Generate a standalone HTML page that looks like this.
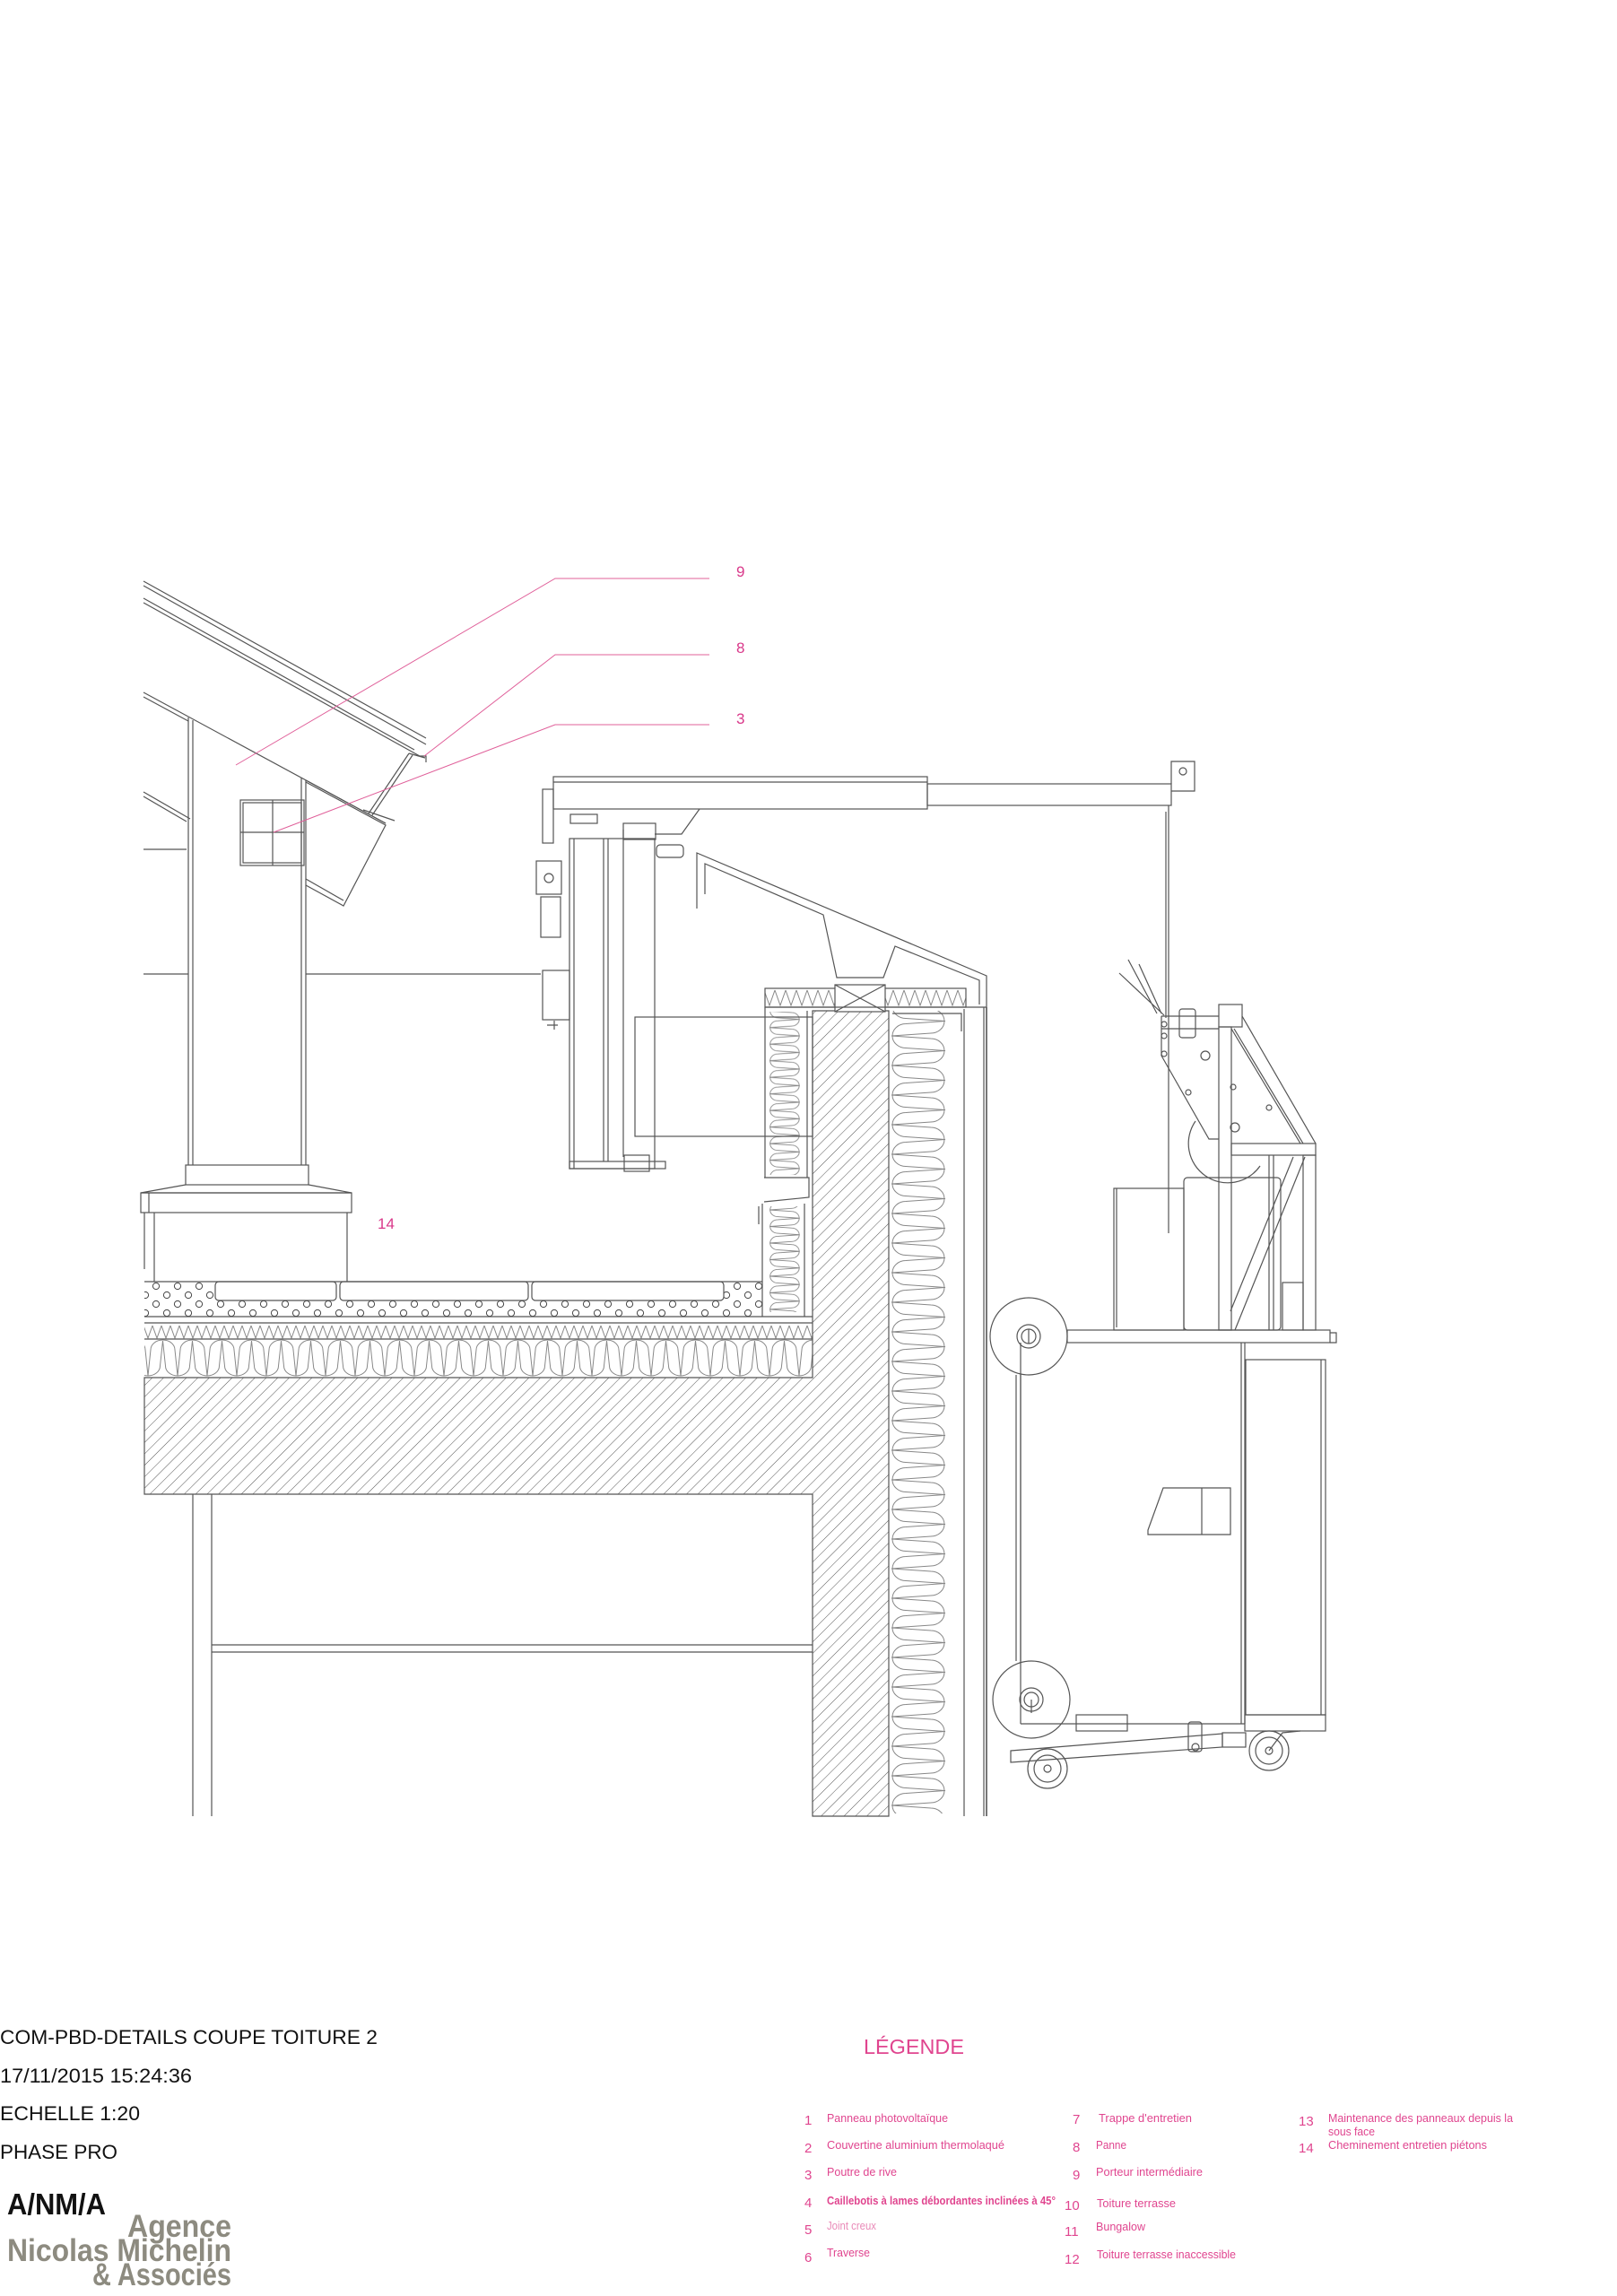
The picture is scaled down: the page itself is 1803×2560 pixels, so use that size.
<!DOCTYPE html>
<html><head><meta charset="utf-8"><style>
html,body{margin:0;padding:0;background:#fff}
svg{display:block}
.t{font-family:"Liberation Sans",sans-serif}
.n{font-family:"Liberation Sans Narrow","Liberation Sans",sans-serif}
</style></head><body>
<svg width="1803" height="2560" viewBox="0 0 1803 2560" xmlns="http://www.w3.org/2000/svg">
<defs>
<pattern id="hatch" patternUnits="userSpaceOnUse" width="9" height="9" patternTransform="rotate(45)">
<line x1="0" y1="0" x2="0" y2="9" stroke="#555" stroke-width="1"/></pattern>
<pattern id="insV" patternUnits="userSpaceOnUse" width="64" height="33" patternTransform="translate(992,0)">
<g fill="none" stroke="#888" stroke-width="1">
<path d="M2,0 L46,3 A15,13.5 0 0 1 46,30 L2,33"/>
<path d="M62,-16.5 L18,-13.5 A15,13.5 0 0 0 18,13.5 L62,16.5 L18,19.5 A15,13.5 0 0 0 18,46.5 L62,49.5"/>
</g></pattern>
<pattern id="insS" patternUnits="userSpaceOnUse" width="64" height="33" patternTransform="translate(857,0) scale(0.56)">
<g fill="none" stroke="#888" stroke-width="1.6">
<path d="M2,0 L46,3 A15,13.5 0 0 1 46,30 L2,33"/>
<path d="M62,-16.5 L18,-13.5 A15,13.5 0 0 0 18,13.5 L62,16.5 L18,19.5 A15,13.5 0 0 0 18,46.5 L62,49.5"/>
</g></pattern>
<pattern id="insH" patternUnits="userSpaceOnUse" width="33" height="43" patternTransform="translate(0,1493)">
<g fill="none" stroke="#888" stroke-width="1">
<path d="M0,41 L3,12 A13.5,11 0 0 1 30,12 L33,41"/>
<path d="M-16.5,2 L-13.5,30 A13.5,11 0 0 0 13.5,30 L16.5,2 L19.5,30 A13.5,11 0 0 0 46.5,30 L49.5,2"/>
</g></pattern>
<pattern id="zig" patternUnits="userSpaceOnUse" width="10" height="16" patternTransform="translate(0,1477)">
<path d="M0,1 L5,15 L10,1" fill="none" stroke="#888" stroke-width="1"/></pattern>
<pattern id="zigP" patternUnits="userSpaceOnUse" width="12" height="21" patternTransform="translate(0,1102)">
<path d="M0,2 L6,19 L12,2" fill="none" stroke="#888" stroke-width="1"/></pattern>
<pattern id="grav" patternUnits="userSpaceOnUse" width="24" height="20" patternTransform="translate(0,1429)">
<g fill="none" stroke="#444" stroke-width="1">
<circle cx="6" cy="5" r="3.6"/><circle cx="18" cy="15" r="3.6"/></g></pattern>
</defs>

<g fill="none" stroke="#555" stroke-width="1.2">
<line x1="160" y1="648" x2="475" y2="823"/>
<line x1="160" y1="653" x2="475" y2="830"/>
<line x1="160" y1="667" x2="462" y2="836"/>
<line x1="160" y1="672" x2="468" y2="843"/>
<path d="M468,843 L475,843 L475,850"/>
<line x1="160" y1="772" x2="430" y2="918"/>
<line x1="160" y1="777" x2="210" y2="804"/>
<line x1="341" y1="870" x2="430" y2="918"/>
<line x1="160" y1="883" x2="212" y2="913"/>
<line x1="160" y1="888" x2="208" y2="916"/>
<line x1="160" y1="947" x2="208" y2="947"/>
<line x1="160" y1="1086" x2="210" y2="1086"/>
<line x1="341" y1="1086" x2="603" y2="1086"/>
<line x1="210" y1="800" x2="210" y2="1299"/>
<line x1="215" y1="803" x2="215" y2="1299"/>
<line x1="336" y1="867" x2="336" y2="1299"/>
<line x1="341" y1="870" x2="341" y2="1299"/>
<rect x="268" y="892" width="71" height="73"/>
<rect x="271" y="895" width="65" height="67"/>
<line x1="304" y1="892" x2="304" y2="965"/>
<line x1="268" y1="928" x2="339" y2="928"/>
<path d="M341,872 L430,920 L383,1010 L341,987"/>
<path d="M341,980 L383,1004"/>
<path d="M456,840 L411,907 M460,842 L415,909 M456,840 L474,845 M405,903 L440,915"/>
<rect x="207" y="1299" width="137" height="22"/>
<path d="M207,1321 L157,1330 L392,1330 L344,1321"/>
<rect x="157" y="1330" width="235" height="22"/>
<line x1="166" y1="1330" x2="166" y2="1352"/>
<line x1="172" y1="1352" x2="172" y2="1429"/>
<line x1="387" y1="1352" x2="387" y2="1429"/>
<line x1="161" y1="1352" x2="161" y2="1415"/>

<rect x="161" y="1429" width="689" height="39" fill="url(#grav)" stroke="none"/>
<rect x="240" y="1429" width="567" height="21" fill="#fff" stroke="none"/>
<line x1="161" y1="1429" x2="850" y2="1429"/>
<rect x="240" y="1429" width="135" height="21" rx="4"/>
<rect x="379" y="1429" width="210" height="21" rx="4"/>
<rect x="593" y="1429" width="214" height="21" rx="4"/>
<line x1="161" y1="1468" x2="906" y2="1468"/>
<line x1="161" y1="1475" x2="906" y2="1475"/>
<rect x="161" y="1477" width="745" height="16" fill="url(#zig)" stroke="none"/>
<line x1="161" y1="1493" x2="906" y2="1493"/>
<rect x="161" y="1493" width="745" height="43" fill="url(#insH)" stroke="none"/>
<path d="M161,1536 L906,1536 L906,1127 L991,1127 L991,2025 L906,2025 L906,1666 L161,1666 Z" fill="url(#hatch)"/>
<line x1="215" y1="1666" x2="215" y2="2025"/>
<line x1="236" y1="1666" x2="236" y2="2025"/>
<line x1="236" y1="1834" x2="906" y2="1834"/>
<line x1="236" y1="1842" x2="906" y2="1842"/>
<rect x="992" y="1127" width="64" height="895" fill="url(#insV)" stroke="none"/>
<line x1="1075" y1="1125" x2="1075" y2="2025"/>
<line x1="1097" y1="1123" x2="1097" y2="2025"/>
<line x1="1100" y1="1123" x2="1100" y2="2025" stroke-width="1.6"/>
<rect x="853" y="1102" width="224" height="21" fill="url(#zigP)"/>
<rect x="931" y="1098" width="56" height="30" fill="#fff"/>
<path d="M931,1098 L987,1128 M987,1098 L931,1128"/>
<line x1="853" y1="1123" x2="1100" y2="1123"/>
<path d="M995,1130 L1072,1130 L1072,1150"/>
<rect x="857" y="1128" width="36" height="182" fill="url(#insS)" stroke="none"/>
<rect x="857" y="1345" width="36" height="118" fill="url(#insS)" stroke="none"/>
<line x1="853" y1="1123" x2="853" y2="1313"/>
<line x1="900" y1="1127" x2="900" y2="1313"/>
<path d="M852,1313 L902,1313 L902,1335 L852,1340"/>
<line x1="846" y1="1345" x2="846" y2="1365"/>
<line x1="850" y1="1342" x2="850" y2="1468"/>
<line x1="897" y1="1342" x2="897" y2="1468"/>

<path d="M777,1013 L777,951 L1100,1088 L1100,1123"/>
<path d="M786,997 L786,963 L918,1020 L933,1090 L985,1090 L998,1055 L1092,1093 L1092,1120"/>

<rect x="617" y="866" width="417" height="36"/>
<line x1="617" y1="872" x2="1034" y2="872"/>
<rect x="1034" y="874" width="272" height="24"/>
<path d="M1306,874 L1306,849 L1332,849 L1332,882 L1306,882"/>
<circle cx="1319" cy="860" r="4"/>
<path d="M780,902 L760,930 L730,930"/>
<rect x="635" y="935" width="95" height="368"/>
<line x1="640" y1="935" x2="640" y2="1303"/>
<line x1="673" y1="935" x2="673" y2="1295"/>
<line x1="678" y1="935" x2="678" y2="1295"/>
<line x1="695" y1="925" x2="695" y2="1290"/>
<rect x="635" y="1295" width="107" height="8"/>
<rect x="598" y="960" width="28" height="37"/>
<circle cx="612" cy="979" r="5"/>
<rect x="603" y="1000" width="22" height="45"/>
<rect x="605" y="1082" width="30" height="55"/>
<rect x="605" y="880" width="12" height="60"/>
<rect x="636" y="908" width="30" height="10"/>
<rect x="695" y="918" width="36" height="18"/>
<rect x="732" y="942" width="30" height="14" rx="4"/>
<rect x="696" y="1288" width="28" height="18"/>
<path d="M610,1143 L622,1143 M618,1138 L618,1148"/>
<rect x="708" y="1134" width="198" height="133"/>

<line x1="1303" y1="898" x2="1303" y2="1375"/>
<line x1="1300" y1="905" x2="1300" y2="1135"/>
<path d="M1290,1130 L1258,1070 M1295,1130 L1270,1075 M1298,1132 L1248,1085"/>
<path d="M1295,1133 L1359,1133 M1295,1133 L1295,1177 L1348,1270 L1359,1270"/>
<path d="M1295,1147 L1359,1147"/>
<rect x="1315" y="1125" width="18" height="32" rx="3"/>
<circle cx="1344" cy="1177" r="5"/>
<circle cx="1325" cy="1218" r="3"/><circle cx="1375" cy="1212" r="3"/><circle cx="1415" cy="1235" r="3"/><circle cx="1377" cy="1257" r="5"/>
<circle cx="1298" cy="1142" r="3"/><circle cx="1298" cy="1155" r="3"/><circle cx="1298" cy="1175" r="3"/>
<path d="M1333,1250 A38,38 0 0 0 1405,1300"/>
<rect x="1359" y="1120" width="26" height="25"/>
<rect x="1359" y="1145" width="14" height="338"/>
<line x1="1385" y1="1133" x2="1467" y2="1275"/>
<line x1="1373" y1="1147" x2="1450" y2="1275"/>
<line x1="1376" y1="1147" x2="1453" y2="1275"/>
<rect x="1373" y="1275" width="94" height="13"/>
<rect x="1453" y="1288" width="14" height="195"/>
<line x1="1455" y1="1290" x2="1377" y2="1483"/>
<line x1="1442" y1="1290" x2="1372" y2="1462"/>
<line x1="1415" y1="1288" x2="1415" y2="1483"/>
<line x1="1420" y1="1288" x2="1420" y2="1483"/>
<rect x="1430" y="1430" width="23" height="53"/>
<rect x="1242" y="1325" width="78" height="158"/>
<line x1="1245" y1="1325" x2="1245" y2="1480"/>
<rect x="1320" y="1313" width="108" height="170" rx="4"/>
<rect x="1190" y="1483" width="293" height="14"/>
<path d="M1483,1486 L1490,1486 L1490,1497 L1483,1497"/>
<circle cx="1147" cy="1490" r="43"/>
<circle cx="1147" cy="1490" r="13"/><circle cx="1147" cy="1490" r="8"/>
<line x1="1147" y1="1482" x2="1147" y2="1498"/>
<line x1="1133" y1="1533" x2="1133" y2="1852"/>
<line x1="1138" y1="1533" x2="1138" y2="1852"/>
<line x1="1138" y1="1497" x2="1138" y2="1922"/>
<line x1="1384" y1="1497" x2="1384" y2="1922"/>
<line x1="1388" y1="1497" x2="1388" y2="1922"/>
<rect x="1389" y="1516" width="89" height="396"/>
<line x1="1473" y1="1516" x2="1473" y2="1912"/>
<line x1="1138" y1="1922" x2="1388" y2="1922"/>
<rect x="1388" y="1912" width="90" height="18"/>
<path d="M1297,1659 L1372,1659 L1372,1711 L1280,1711 L1280,1706 Z"/>
<line x1="1340" y1="1659" x2="1340" y2="1711"/>
<circle cx="1150" cy="1895" r="43"/>
<circle cx="1150" cy="1895" r="13"/><circle cx="1150" cy="1895" r="8"/>
<line x1="1150" y1="1895" x2="1150" y2="1910"/>
<rect x="1200" y="1912" width="57" height="18"/>
<path d="M1127,1952 L1363,1933 L1363,1948 L1127,1965 Z"/>
<rect x="1325" y="1920" width="15" height="33" rx="3"/>
<circle cx="1333" cy="1948" r="4"/>
<rect x="1363" y="1932" width="26" height="16"/>
<circle cx="1168" cy="1972" r="22"/><circle cx="1168" cy="1972" r="15"/><circle cx="1168" cy="1972" r="4"/>
<circle cx="1415" cy="1952" r="22"/><circle cx="1415" cy="1952" r="15"/><circle cx="1415" cy="1952" r="4"/>
<path d="M1415,1952 L1430,1932 L1450,1930"/>
</g>

<g fill="none" stroke="#e0609a" stroke-width="1">
<path d="M791,645 L619,645 L263,853"/>
<path d="M791,730 L619,730 L473,843"/>
<path d="M791,808 L619,808 L305,928"/>
</g>
<g class="t" fill="#d9388a" font-size="17">
<text x="821" y="643">9</text>
<text x="821" y="728">8</text>
<text x="821" y="807">3</text>
<text x="421" y="1370">14</text>
</g>

<g class="n" fill="#111" font-size="22">
<text x="0" y="2279" textLength="421" lengthAdjust="spacingAndGlyphs">COM-PBD-DETAILS COUPE TOITURE 2</text>
<text x="0" y="2322" textLength="214" lengthAdjust="spacingAndGlyphs">17/11/2015 15:24:36</text>
<text x="0" y="2364" textLength="156" lengthAdjust="spacingAndGlyphs">ECHELLE 1:20</text>
<text x="0" y="2407" textLength="131" lengthAdjust="spacingAndGlyphs">PHASE PRO</text>
</g>
<text class="n" x="8" y="2469" font-size="33" font-weight="bold" fill="#111" textLength="110" lengthAdjust="spacingAndGlyphs">A/NM/A</text>
<g class="n" fill="#8d8b80" font-size="35" font-weight="bold">
<text x="142" y="2494" textLength="116" lengthAdjust="spacingAndGlyphs">Agence</text>
<text x="8" y="2521" textLength="250" lengthAdjust="spacingAndGlyphs">Nicolas Michelin</text>
<text x="103" y="2548" textLength="155" lengthAdjust="spacingAndGlyphs">&amp; Associés</text>
</g>

<text class="t" x="963" y="2290" font-size="23" fill="#e0458f" textLength="112" lengthAdjust="spacingAndGlyphs">LÉGENDE</text>
<g class="t" fill="#e0458f" font-size="15">
<text x="897" y="2369">1</text><text x="897" y="2400">2</text><text x="897" y="2430">3</text>
<text x="897" y="2461">4</text><text x="897" y="2491">5</text><text x="897" y="2522">6</text>
<text x="1196" y="2368">7</text><text x="1196" y="2399">8</text><text x="1196" y="2430">9</text>
<text x="1187" y="2464">10</text><text x="1187" y="2493">11</text><text x="1187" y="2524">12</text>
<text x="1448" y="2370">13</text><text x="1448" y="2400">14</text>
</g>
<g class="n" fill="#e0458f" font-size="12.5">
<text x="922" y="2366" textLength="135" lengthAdjust="spacingAndGlyphs">Panneau photovoltaïque</text>
<text x="922" y="2396" textLength="198" lengthAdjust="spacingAndGlyphs">Couvertine aluminium thermolaqué</text>
<text x="922" y="2426" textLength="78" lengthAdjust="spacingAndGlyphs">Poutre de rive</text>
<text x="922" y="2458" font-weight="bold" textLength="255" lengthAdjust="spacingAndGlyphs">Caillebotis à lames débordantes inclinées à 45°</text>
<text x="922" y="2486" fill="#e98ab8" textLength="55" lengthAdjust="spacingAndGlyphs">Joint creux</text>
<text x="922" y="2516" textLength="48" lengthAdjust="spacingAndGlyphs">Traverse</text>
<text x="1225" y="2366" textLength="104" lengthAdjust="spacingAndGlyphs">Trappe d'entretien</text>
<text x="1222" y="2396" textLength="34" lengthAdjust="spacingAndGlyphs">Panne</text>
<text x="1222" y="2426" textLength="119" lengthAdjust="spacingAndGlyphs">Porteur intermédiaire</text>
<text x="1223" y="2461" textLength="88" lengthAdjust="spacingAndGlyphs">Toiture terrasse</text>
<text x="1222" y="2487" textLength="55" lengthAdjust="spacingAndGlyphs">Bungalow</text>
<text x="1223" y="2518" textLength="155" lengthAdjust="spacingAndGlyphs">Toiture terrasse inaccessible</text>
<text x="1481" y="2366" textLength="206" lengthAdjust="spacingAndGlyphs">Maintenance des panneaux depuis la</text>
<text x="1481" y="2381" textLength="52" lengthAdjust="spacingAndGlyphs">sous face</text>
<text x="1481" y="2396" textLength="177" lengthAdjust="spacingAndGlyphs">Cheminement entretien piétons</text>
</g>
</svg>
</body></html>
